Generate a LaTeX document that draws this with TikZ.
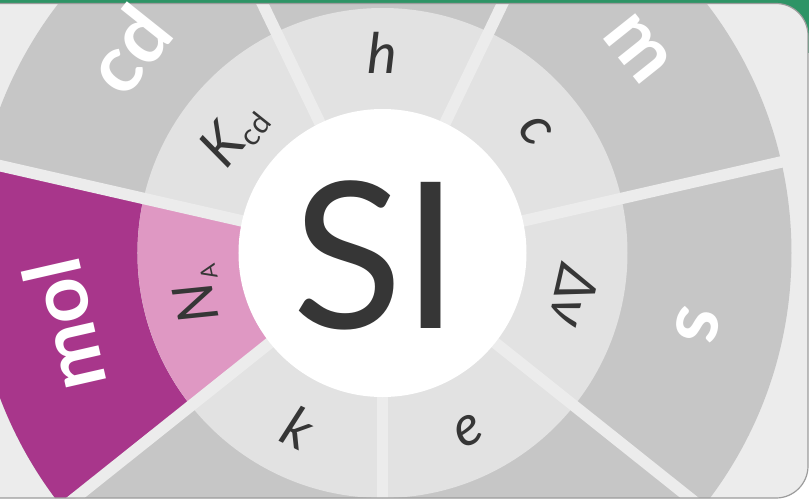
\documentclass[tikz,border=0pt]{standalone}
\usepackage{fontspec}
\setmainfont{Lato}
\usepackage{tikz}
\usetikzlibrary{positioning}
\definecolor{ringout}{HTML}{C6C6C6}
\definecolor{ringin}{HTML}{E2E2E2}
\definecolor{paper}{HTML}{ECECEC}
\definecolor{plum}{HTML}{A8368B}
\definecolor{rose}{HTML}{DF98C3}
\definecolor{ink}{HTML}{363636}
\definecolor{leaf}{HTML}{2E9466}
\definecolor{rim}{HTML}{9C9C9C}
\tikzset{
  const/.style={text=ink, inner sep=0pt, font=\fontsize{56}{56}\selectfont\itshape},
  unit/.style={text=white, inner sep=0pt, font=\fontsize{80}{80}\selectfont\bfseries}
}
\newcommand{\lowsub}[2]{\raisebox{-8pt}{\fontsize{#1}{#1}\selectfont\upshape #2}}

\begin{document}
\begin{tikzpicture}[x=1pt,y=1pt]
  \useasboundingbox (-382.5,-246) rectangle (426.5,253);
  \fill[white] (-382.5,-246) rectangle (426.5,253);
  \fill[leaf] (-382.5,248) rectangle (426.5,253);
  \fill[leaf] (380,200) rectangle (426.5,253);
  \fill[paper, rounded corners=32] (-420,-245) rectangle (425.5,249.5);
  \begin{scope}
    \clip[rounded corners=32] (-420,-245) rectangle (425.5,249.5);
    \fill[ringout] (0,0) circle (409);
    \fill[plum] (0,0) -- (167.14:409) arc (167.14:218.57:409) -- cycle;
    \fill[ringin] (0,0) circle (245);
    \fill[rose] (0,0) -- (167.14:245) arc (167.14:218.57:245) -- cycle;
    \foreach \a in {12.86,64.29,115.71,167.14,218.57,270,321.43}
      \draw[paper, line width=11.5] (0,0) -- (\a:430);
    \fill[white] (0,0) circle (144);
  \end{scope}
  \draw[rim, line width=1.2, rounded corners=32] (-420,-245) rectangle (425.5,249.5);

  \node[text=ink, inner sep=0pt, font=\fontsize{204}{204}\selectfont] (si) at (-6.5,-2) {SI};

  \node[const] (h) at (90:200) {h};
  \node[const, rotate=-51.43] (c) at (38.57:196) {c};
  \node[const, rotate=51.43] (kcd) at (141.43:190) {K\lowsub{30}{cd}};
  \node[const, rotate=102.86] (na) at (192.86:190) {N\lowsub{22}{A}};
  \node[const, rotate=-25.71] (k) at (244.29:194) {k};
  \node[const, rotate=25.71] (e) at (295.71:198) {e};
  \node[const, rotate=-102.86] (dnu) at (347.14:197) {Δν};

  \node[unit, rotate=51.43] (cd) at (141.43:326) {cd};
  \node[unit, rotate=-51.43] (m) at (38.57:327) {m};
  \node[unit, rotate=-102.86] (s) at (347.14:323) {s};
  \node[unit, rotate=102.86] (mol) at (192.86:327) {mol};
\end{tikzpicture}
\end{document}
